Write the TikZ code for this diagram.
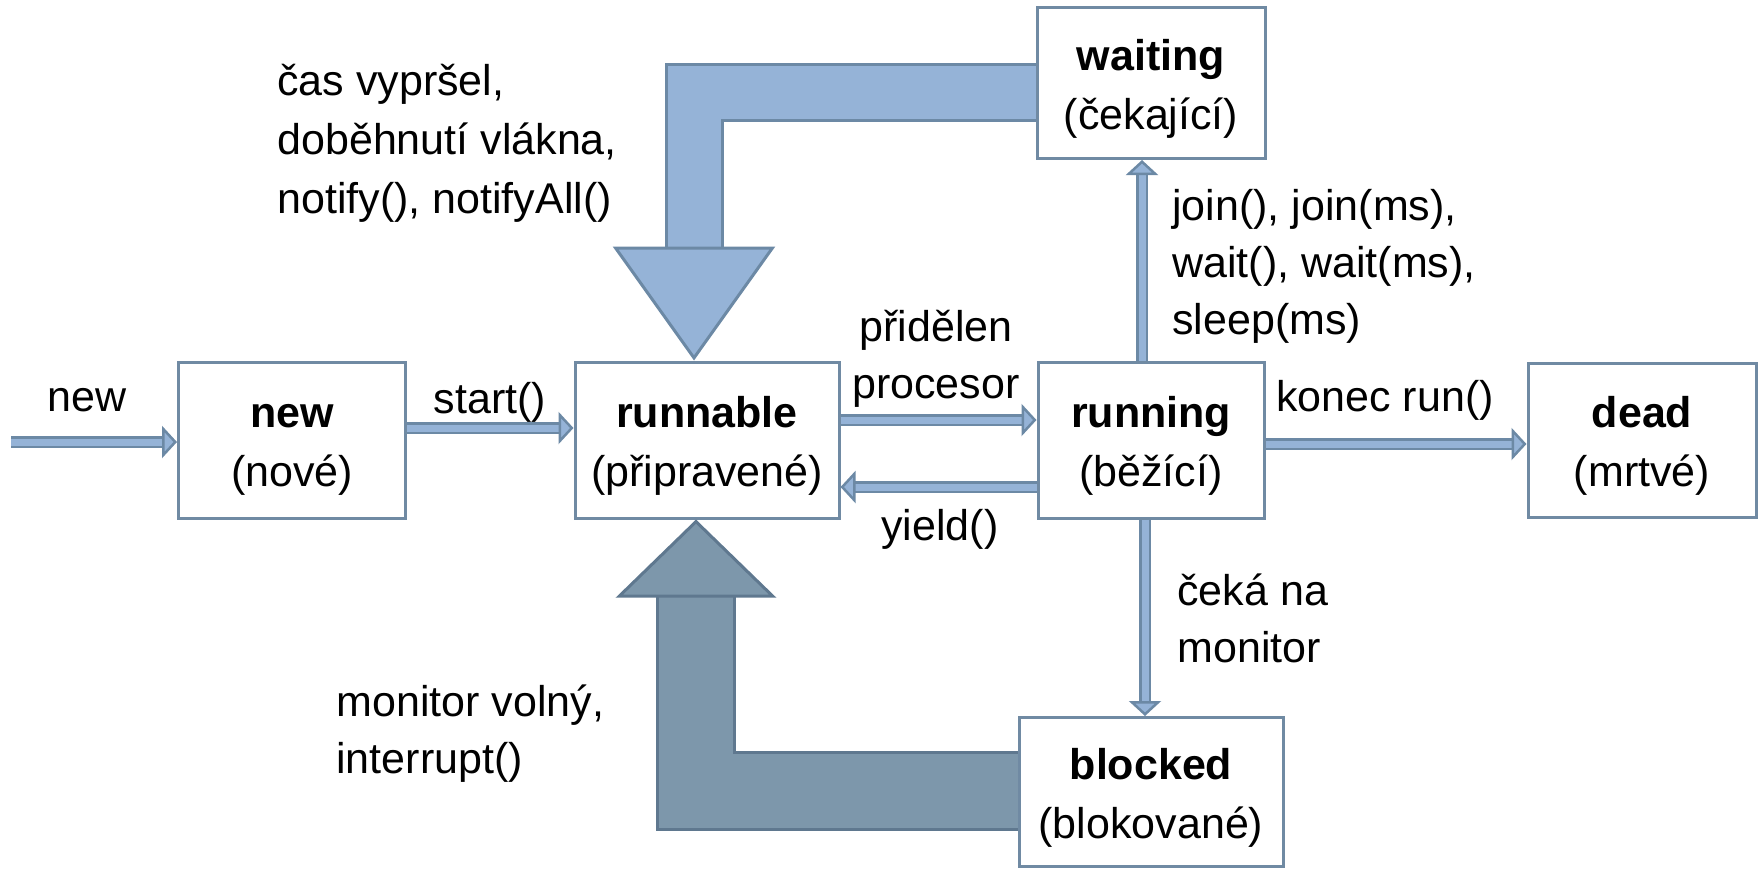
\documentclass[tikz,border=0pt]{standalone}
\usepackage{fontspec}
\setmainfont{Liberation Sans}
\usetikzlibrary{arrows.meta}

\definecolor{arrowfill}{RGB}{149,179,215}
\definecolor{arrowline}{RGB}{108,137,165}
\definecolor{backfill}{RGB}{125,151,171}
\definecolor{backline}{RGB}{95,120,143}
\definecolor{boxline}{RGB}{112,138,163}

\begin{document}
\begin{tikzpicture}[x=0.5pt,y=-0.5pt]
    \tikzset{state/.style = {draw=boxline, line width=1.5pt, fill=white, align=center, inner sep=0pt, text height=51pt, text depth=5pt, font=\fontsize{21.5}{29.5}\selectfont}}
    \tikzset{note/.style = {inner sep=0pt, font=\fontsize{21.5}{28.5}\selectfont}}
    \tikzset{edge/.style = {draw=arrowline, double=arrowfill, line width=1.25pt, double distance=3.5pt, -{Triangle[length=7.5pt, width=16pt, line width=1.25pt, fill=arrowfill]}}}
    \tikzset{waitedge/.style = {draw=arrowline, double=arrowfill, line width=1.5pt, double distance=26.5pt, -{Triangle[length=57pt, width=81pt, line width=1.5pt, fill=arrowfill]}}}
    \tikzset{blockedge/.style = {draw=backline, double=backfill, line width=1.5pt, double distance=37pt, -{Triangle[length=39pt, width=80pt, line width=1.5pt, fill=backfill]}}}
    \useasboundingbox (0,0) rectangle (1758,869);
    % states
    \node[state, minimum width=113.5pt, minimum height=78pt] (new) at (292,440) {\textbf{new}\\(nové)};
    \node[state, minimum width=132pt, minimum height=78pt] (runnable) at (707,440) {\textbf{runnable}\\(připravené)};
    \node[state, minimum width=113pt, minimum height=78pt] (running) at (1151,440) {\textbf{running}\\(běžící)};
    \node[state, minimum width=114pt, minimum height=77pt] (dead) at (1642,440) {\textbf{dead}\\(mrtvé)};
    \node[state, minimum width=114pt, minimum height=75.5pt] (waiting) at (1151,83) {\textbf{waiting}\\(čekající)};
    \node[state, minimum width=132pt, minimum height=74.5pt] (blocked) at (1151,792) {\textbf{blocked}\\(blokované)};
    \coordinate (entry) at (11,442);
    \coordinate (wturn) at (694,92);
    \coordinate (bturn) at (696,791);
    % big arrows
    \draw[waitedge] (wturn -| waiting.west) -- (wturn) -- (runnable.north -| wturn);
    \draw[blockedge] (bturn -| blocked.west) -- (bturn) -- (runnable.south -| bturn);
    %edges
    \draw[edge] (entry) -- (entry -| new.west);
    \draw[edge] ([yshift=6pt]new.east) -- ([yshift=6pt]runnable.west);
    \draw[edge] ([yshift=10pt]runnable.east) -- ([yshift=10pt]running.west);
    \draw[edge] ([yshift=-23.5pt]running.west) -- ([yshift=-23.5pt]runnable.east);
    \draw[edge] ([yshift=-2pt]running.east) -- ([yshift=-2pt]dead.west);
    \draw[edge] ([xshift=-4.5pt]running.north) -- ([xshift=-4.5pt]waiting.south);
    \draw[edge] ([xshift=-3pt]running.south) -- ([xshift=-3pt]blocked.north);
    % labels
    \node[note] (newtext) at (87,400) {new};
    \node[note] (starttext) at (490,402) {start()};
    \node[note, align=center] (cputext) at (936,359) {přidělen\\procesor};
    \node[note] (yieldtext) at (940,529) {yield()};
    \node[note] (endtext) at (1385,400) {konec run()};
    \node[note, anchor=west, align=left] (jointext) at (1172,266) {join(), join(ms),\\wait(), wait(ms),\\sleep(ms)};
    \node[note, anchor=west, align=left] (monitortext) at (1177,618) {čeká na\\monitor};
    \node[note, anchor=west, align=left, font=\fontsize{21.5}{29.5}\selectfont] (notifytext) at (277,143) {čas vypršel,\\doběhnutí vlákna,\\notify(), notifyAll()};
    \node[note, anchor=west, align=left] (freetext) at (336,734) {monitor volný,\\interrupt()};
\end{tikzpicture}
\end{document}
